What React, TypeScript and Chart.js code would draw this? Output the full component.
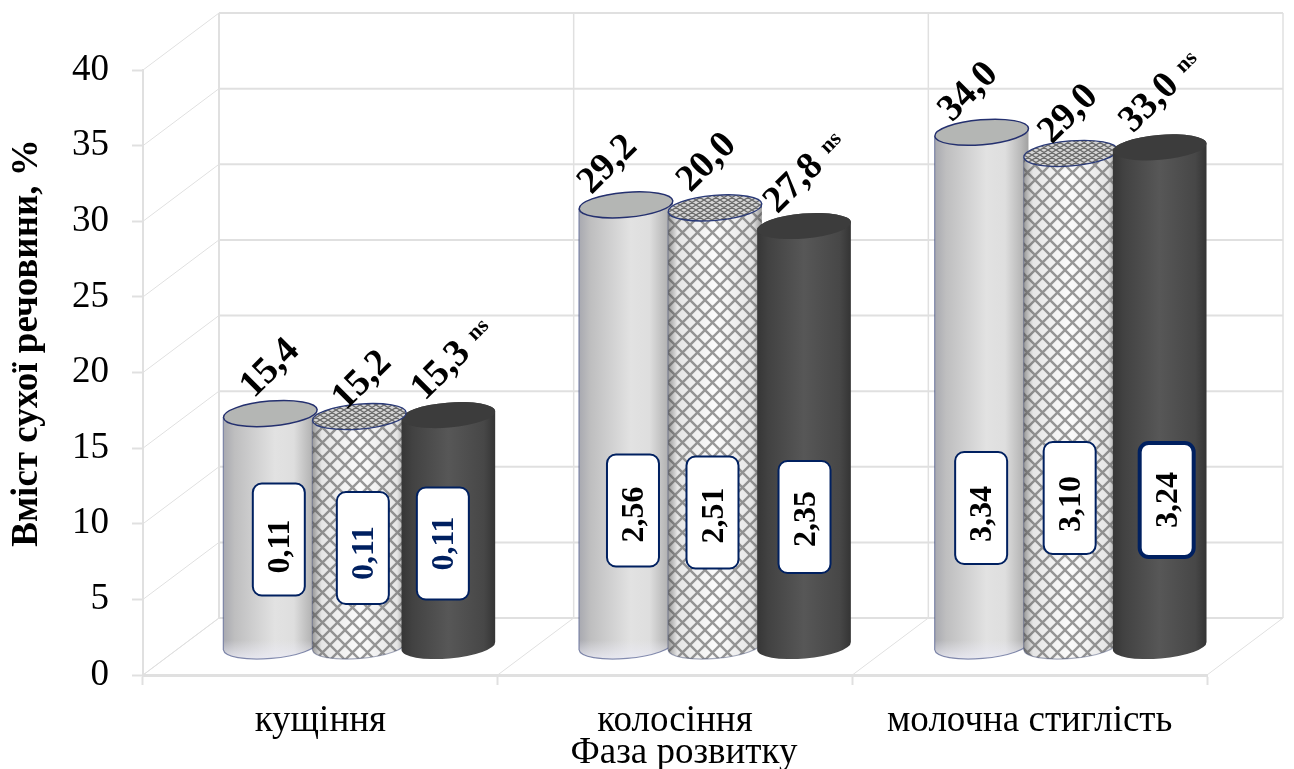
import React, { useEffect, useRef } from "react";
import { Chart, registerables } from "chart.js";

Chart.register(...registerables);

const categories = ["кущіння", "колосіння", "молочна стиглість"];
const yTicks = { min: 0, max: 40, step: 5 };
const yTitle = "Вміст сухої речовини, %";
const xTitle = "Фаза розвитку";

// heights as drawn in the picture
const seriesA = [15.4, 29.2, 34.0];
const seriesB = [15.2, 29.0, 32.6];
const seriesC = [15.3, 27.8, 33.0];

// text printed above each cylinder
const topLabelsA = ["15,4", "29,2", "34,0"];
const topLabelsB = ["15,2", "20,0", "29,0"];
const topLabelsC = ["15,3", "27,8", "33,0"];
const suffixC = "ns";

// text printed in the boxes
const boxLabelsA = ["0,11", "2,56", "3,34"];
const boxLabelsB = ["0,11", "2,51", "3,10"];
const boxLabelsC = ["0,11", "2,35", "3,24"];

const NAVY = "#002060";
const SERIF = '"Liberation Serif", serif';
const GRID = "#e0e0e0";
const DEPTH_X = 76;
const DEPTH_Y = 57;
const CYL_RX = 47;
const CYL_RY = 12.5;
const TILT = -0.085;

// layout nudges for annotations [dx from bar centre, dy from cap centre]
const topNudge = [
  [[0, -45], [3, -36], [-7, -44]],
  [[-18, -40], [-8, -45], [-10, -42]],
  [[-13, -40], [-2, -39], [-10, -44]],
];
// [dx from bar centre, box centre y, border width, text colour, text dy]
const boxLayout: [number, number, number, string, number][][] = [
  [[8.5, 539.5, 2, "#000", 7], [3.5, 548, 2, NAVY, 5], [-5.5, 543.5, 2, NAVY, 0]],
  [[7, 510.5, 2, "#000", 4], [-2.5, 512.5, 2, "#000", 3], [0.5, 517, 2, "#000", 2]],
  [[-0.5, 508, 2, "#000", 6], [-1, 498, 2, "#000", 6], [7, 500, 4, "#000", 0]],
];

function latticeTile(size: number, h: number, lw: number, color: string, bg: string) {
  const c = document.createElement("canvas");
  c.width = size;
  c.height = h;
  const g = c.getContext("2d")!;
  g.fillStyle = bg;
  g.fillRect(0, 0, size, h);
  g.strokeStyle = color;
  g.lineWidth = lw;
  g.beginPath();
  for (let k = -1; k <= 1; k++) {
    g.moveTo(k * size, 0);
    g.lineTo(k * size + size, h);
    g.moveTo(k * size, h);
    g.lineTo(k * size + size, 0);
  }
  g.stroke();
  return c;
}

function bodyPath(ctx: CanvasRenderingContext2D, cx: number, top: number, base: number) {
  ctx.beginPath();
  ctx.ellipse(cx, base, CYL_RX, CYL_RY, TILT, 0, Math.PI, false);
  ctx.ellipse(cx, top, CYL_RX, CYL_RY, TILT, Math.PI, Math.PI * 2, false);
  ctx.closePath();
}

function drawBody(ctx: CanvasRenderingContext2D, series: number, cx: number, top: number, base: number) {
  const grad = (stops: [number, string][]) => {
    const g = ctx.createLinearGradient(cx - CYL_RX, 0, cx + CYL_RX, 0);
    stops.forEach(([o, c]) => g.addColorStop(o, c));
    return g;
  };
  ctx.save();
  bodyPath(ctx, cx, top, base);
  if (series === 0) {
    ctx.fillStyle = grad([[0, "#a8a9b0"], [0.12, "#bebebf"], [0.55, "#e2e2e2"], [0.75, "#dedede"], [0.92, "#b8b8b8"], [1, "#a0a0a0"]]);
    ctx.fill();
    const low = ctx.createLinearGradient(0, base - 6, 0, base + 12);
    low.addColorStop(0, "rgba(235,235,245,0)");
    low.addColorStop(1, "rgba(235,235,245,0.8)");
    ctx.fillStyle = low;
    ctx.fill();
  } else if (series === 1) {
    ctx.fillStyle = ctx.createPattern(latticeTile(15, 15, 2.4, "#999999", "#fbfbfb"), "repeat")!;
    ctx.fill();
    ctx.fillStyle = grad([[0, "rgba(70,70,70,0.55)"], [0.1, "rgba(70,70,70,0.12)"], [0.5, "rgba(70,70,70,0)"], [0.9, "rgba(70,70,70,0.12)"], [1, "rgba(70,70,70,0.55)"]]);
    ctx.fill();
  } else {
    ctx.fillStyle = grad([[0, "#363636"], [0.12, "#424242"], [0.5, "#575757"], [0.88, "#474747"], [1, "#343434"]]);
    ctx.fill();
  }
  // outline down the left side and along the bottom
  if (series < 2) {
    ctx.strokeStyle = series === 0 ? "rgba(45,60,120,0.55)" : "rgba(60,70,110,0.45)";
    ctx.lineWidth = 1.2;
    ctx.beginPath();
    ctx.ellipse(cx, base, CYL_RX, CYL_RY, TILT, 0, Math.PI, false);
    ctx.stroke();
    ctx.beginPath();
    ctx.moveTo(cx - CYL_RX, top + 4);
    ctx.lineTo(cx - CYL_RX, base + 4);
    ctx.stroke();
  }
  ctx.restore();
}

function drawCap(ctx: CanvasRenderingContext2D, series: number, cx: number, top: number) {
  ctx.save();
  ctx.beginPath();
  ctx.ellipse(cx, top, CYL_RX, CYL_RY, TILT, 0, Math.PI * 2);
  if (series === 0) {
    ctx.fillStyle = "#b4b6b4";
    ctx.fill();
    ctx.strokeStyle = "#24306f";
    ctx.lineWidth = 1.5;
    ctx.stroke();
  } else if (series === 1) {
    ctx.fillStyle = ctx.createPattern(latticeTile(8, 5, 1.3, "#6a6a6a", "#d6d6d6"), "repeat")!;
    ctx.fill();
    ctx.strokeStyle = "#2a3a78";
    ctx.lineWidth = 1.3;
    ctx.stroke();
  } else {
    ctx.fillStyle = "#3c3c3c";
    ctx.fill();
  }
  ctx.restore();
}

function centeredText(ctx: CanvasRenderingContext2D, text: string, x: number, y: number, angle: number, font: string, color: string) {
  ctx.save();
  ctx.translate(x, y);
  ctx.rotate(angle);
  ctx.font = font;
  ctx.fillStyle = color;
  ctx.textAlign = "center";
  ctx.textBaseline = "middle";
  ctx.fillText(text, 0, 0);
  ctx.restore();
}

const cylinders3d = {
  id: "cylinders3d",
  beforeDatasetsDraw(chart: any) {
    const { ctx, chartArea: area, scales } = chart;
    const yS = scales.y;

    // walls and floor
    ctx.save();
    ctx.strokeStyle = GRID;
    ctx.lineCap = "butt";
    const line = (a: number, b: number, c: number, d: number, w: number) => {
      ctx.lineWidth = w;
      ctx.beginPath();
      ctx.moveTo(a, b);
      ctx.lineTo(c, d);
      ctx.stroke();
    };
    yS.ticks.forEach((t: any) => {
      const py = yS.getPixelForValue(t.value);
      line(area.left, py, area.left + DEPTH_X, py - DEPTH_Y, 1);
      line(area.left + DEPTH_X, py - DEPTH_Y, area.right + DEPTH_X, py - DEPTH_Y, 2);
    });
    const step = (area.right - area.left) / categories.length;
    for (let k = 0; k <= categories.length; k++) {
      const fx = area.left + k * step;
      line(fx, area.bottom, fx + DEPTH_X, area.bottom - DEPTH_Y, 1);
      line(fx + DEPTH_X, area.top - DEPTH_Y, fx + DEPTH_X, area.bottom - DEPTH_Y, k === 0 ? 2 : 1.5);
    }
    ctx.restore();

    // cylinders
    const metas = [0, 1, 2].map((i) => chart.getDatasetMeta(i));
    const values = [seriesA, seriesB, seriesC];
    const top = [topLabelsA, topLabelsB, topLabelsC];
    const boxes = [boxLabelsA, boxLabelsB, boxLabelsC];
    const geo = (s: number, c: number) => {
      const el = metas[s].data[c];
      return { cx: el.x + DEPTH_X / 2 + c + 1, top: el.y - DEPTH_Y / 2, base: el.base - DEPTH_Y / 2 };
    };
    categories.forEach((_, c) => {
      const late: number[] = [];
      for (let s = 0; s < 3; s++) {
        const g = geo(s, c);
        drawBody(ctx, s, g.cx, g.top, g.base);
        if (s < 2 && values[s + 1][c] > values[s][c] + 0.2) drawCap(ctx, s, g.cx, g.top);
        else late.unshift(s);
      }
      late.forEach((s) => {
        const g = geo(s, c);
        drawCap(ctx, s, g.cx, g.top);
      });
    });

    // annotations
    categories.forEach((_, c) => {
      for (let s = 0; s < 3; s++) {
        const g = geo(s, c);
        const [dx, dy] = topNudge[c][s];
        const lx = g.cx + dx;
        const ly = g.top + dy;
        centeredText(ctx, top[s][c], lx, ly, -Math.PI / 4, `bold 38px ${SERIF}`, "#000");
        if (s === 2) centeredText(ctx, suffixC, lx + 37, ly - 41, -Math.PI / 4, `bold 22px ${SERIF}`, "#000");

        const [bdx, bcy, bw, color, tdy] = boxLayout[c][s];
        const bx = g.cx + bdx;
        const w = bw > 2 ? 54 : 52;
        const h = bw > 2 ? 114 : 112;
        ctx.save();
        ctx.beginPath();
        ctx.roundRect(bx - w / 2, bcy - h / 2, w, h, 9);
        ctx.fillStyle = "#fff";
        ctx.fill();
        ctx.strokeStyle = NAVY;
        ctx.lineWidth = bw;
        ctx.stroke();
        ctx.restore();
        centeredText(ctx, boxes[s][c], bx + 2, bcy + tdy, -Math.PI / 2, `bold 32px ${SERIF}`, color);
      }
    });

    // axis titles
    centeredText(ctx, yTitle, 27, 343, -Math.PI / 2, `bold 37px ${SERIF}`, "#000");
    centeredText(ctx, xTitle, 684, 753, 0, `37px ${SERIF}`, "#000");
    return false;
  },
};

export default function App() {
  const ref = useRef<HTMLCanvasElement>(null);
  useEffect(() => {
    document.body.style.margin = "0";
    const chart = new Chart(ref.current!, {
      type: "bar",
      data: {
        labels: categories,
        datasets: [
          { label: "A", data: seriesA, backgroundColor: "#d8d8d8" },
          { label: "B", data: seriesB, backgroundColor: "#bcbcbc" },
          { label: "C", data: seriesC, backgroundColor: "#4a4a4a" },
        ],
      },
      options: {
        responsive: false,
        animation: false,
        events: [],
        layout: { padding: { top: 70, right: 87, left: 0, bottom: 0 } },
        datasets: { bar: { categoryPercentage: 0.753, barPercentage: 1 } },
        plugins: { legend: { display: false }, tooltip: { enabled: false }, title: { display: false } },
        scales: {
          x: {
            afterFit: (s: any) => { s.height = 94; },
            grid: { drawOnChartArea: false, drawTicks: true, tickLength: 10, tickColor: GRID, tickWidth: 2 },
            border: { display: true, color: GRID, width: 3 },
            ticks: { color: "#000", font: { family: SERIF, size: 37 }, padding: 14, maxRotation: 0, minRotation: 0, autoSkip: false },
          },
          y: {
            min: yTicks.min,
            max: yTicks.max,
            afterFit: (s: any) => { s.width = 143; },
            grid: { drawOnChartArea: false, drawTicks: true, tickLength: 11, tickColor: GRID, tickWidth: 2 },
            border: { display: true, color: GRID, width: 2 },
            ticks: { stepSize: yTicks.step, color: "#000", font: { family: SERIF, size: 37 }, padding: 23 },
          },
        },
      },
      plugins: [cylinders3d],
    } as any);
    return () => chart.destroy();
  }, []);
  return (
    <div style={{ position: "absolute", left: 0, top: 0, width: 1294, height: 769, background: "#fff" }}>
      <canvas ref={ref} width={1294} height={769} style={{ display: "block" }} />
    </div>
  );
}
